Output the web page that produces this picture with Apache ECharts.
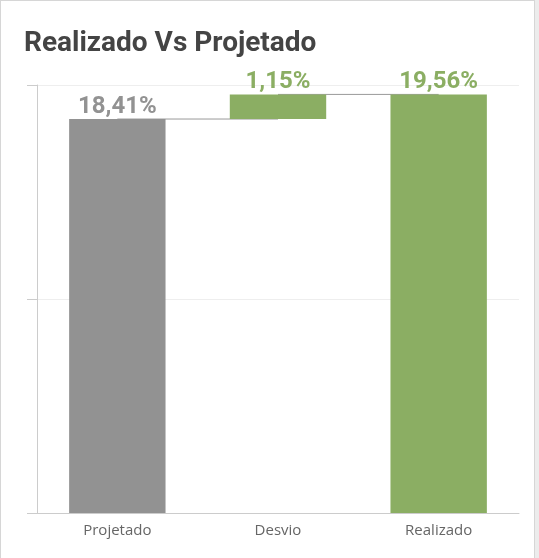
<!DOCTYPE html>
<html>
<head>
<meta charset="utf-8">
<script src="https://cdn.jsdelivr.net/npm/echarts@6/dist/echarts.min.js"></script>
<style>
    html, body { margin: 0; padding: 0; background: #ececec; }
    #card {
        position: absolute; left: 0; top: 0;
        width: 533px; height: 570px;
        background: #fff;
        border: 1px solid #d6d6d6;
        border-bottom: none;
    }
    #chart { width: 539px; height: 558px; position: absolute; left: 0; top: 0; }
</style>
</head>
<body>
<div id="card"></div>
<div id="chart"></div>
<script>
    const categories = ['Projetado', 'Desvio', 'Realizado'];
    const baseValues = [0, 18.41, 0];
    const barValues = [18.41, 1.15, 19.56];
    const labelTexts = ['18,41%', '1,15%', '19,56%'];
    const connector1 = [18.41, 18.41, null];
    const connector2 = [null, 19.56, 19.56];

    const GRAY = '#929292';
    const GREEN = '#8bae63';
    const barColors = [GRAY, GREEN, GREEN];

    const chart = echarts.init(document.getElementById('chart'));
    chart.setOption({
        animation: false,
        title: {
            text: 'Realizado Vs Projetado',
            left: 19,
            top: 25,
            textStyle: {
                fontFamily: 'Roboto',
                fontWeight: 'bold',
                fontSize: 28,
                color: '#444444'
            }
        },
        grid: {
            left: 37,
            right: 20,
            top: 85,
            bottom: 45
        },
        xAxis: {
            type: 'category',
            data: categories,
            axisLine: { lineStyle: { color: '#cccccc' } },
            axisTick: { length: 10, lineStyle: { color: '#cccccc' } },
            axisLabel: {
                color: '#666666',
                fontFamily: 'Open Sans',
                fontSize: 15,
                margin: 10
            }
        },
        yAxis: {
            type: 'value',
            min: 0,
            max: 20,
            interval: 10,
            axisLine: { show: true, lineStyle: { color: '#cccccc' } },
            axisTick: { show: true, length: 10, lineStyle: { color: '#cccccc' } },
            axisLabel: { show: false },
            splitLine: { lineStyle: { color: '#eeeeee' } }
        },
        series: [
            {
                type: 'line',
                data: connector1,
                symbol: 'none',
                z: 1,
                lineStyle: { color: '#999999', width: 1 }
            },
            {
                type: 'line',
                data: connector2,
                symbol: 'none',
                z: 1,
                lineStyle: { color: '#999999', width: 1 }
            },
            {
                type: 'bar',
                stack: 'wf',
                data: baseValues,
                barWidth: '60%',
                z: 2,
                itemStyle: { color: 'transparent' }
            },
            {
                type: 'bar',
                stack: 'wf',
                barWidth: '60%',
                z: 2,
                data: barValues.map(function (v, i) {
                    return {
                        value: v,
                        itemStyle: { color: barColors[i] },
                        label: { color: barColors[i] }
                    };
                }),
                label: {
                    show: true,
                    position: 'top',
                    distance: 0,
                    fontFamily: 'Roboto',
                    fontWeight: 'bold',
                    fontSize: 24,
                    formatter: function (p) { return labelTexts[p.dataIndex]; }
                }
            }
        ]
    });
</script>
</body>
</html>
